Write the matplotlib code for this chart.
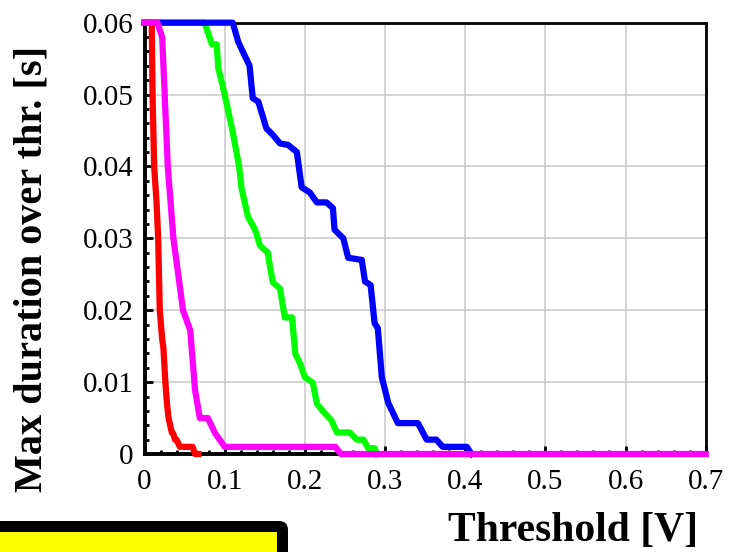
import numpy as np
import matplotlib
matplotlib.use("Agg")
import matplotlib.pyplot as plt
from matplotlib.patches import FancyBboxPatch, Rectangle
from matplotlib.ticker import MultipleLocator

plt.rcParams['font.family'] = ['Liberation Serif', 'DejaVu Serif']

# curves (threshold [V], max duration [s])
red_x = [0, 0.009, 0.010, 0.012, 0.015, 0.017, 0.019, 0.022, 0.0235, 0.026, 0.028,
         0.030, 0.032, 0.034, 0.036, 0.038, 0.040, 0.044, 0.050, 0.056, 0.060, 0.063, 0.067]
red_y = [0.06, 0.06, 0.05, 0.04, 0.035, 0.03, 0.02, 0.016, 0.0148, 0.01, 0.007,
         0.005, 0.004, 0.003, 0.0028, 0.002, 0.002, 0.001, 0.001, 0.001, 0.001, 0.0, 0.0]

magenta_x = [0, 0.016, 0.022, 0.029, 0.036, 0.048, 0.057, 0.063, 0.069, 0.079, 0.088,
             0.100, 0.238, 0.245, 0.7]
magenta_y = [0.06, 0.06, 0.058, 0.04, 0.03, 0.02, 0.0172, 0.0089, 0.005, 0.005, 0.0029,
             0.001, 0.001, 0.0, 0.0]

green_x = [0, 0.075, 0.084, 0.090, 0.092, 0.100, 0.110, 0.118, 0.121, 0.122, 0.129, 0.138,
           0.144, 0.154, 0.154, 0.160, 0.169, 0.175, 0.184, 0.188, 0.194, 0.200, 0.210,
           0.215, 0.223, 0.233, 0.240, 0.256, 0.265, 0.273, 0.279, 0.287, 0.290]
green_y = [0.06, 0.06, 0.057, 0.057, 0.0537, 0.05, 0.0448, 0.040, 0.037, 0.0365, 0.033, 0.0312,
           0.029, 0.028, 0.0277, 0.0239, 0.023, 0.019, 0.019, 0.014, 0.0126, 0.0107, 0.0099,
           0.007, 0.0059, 0.0047, 0.003, 0.003, 0.002, 0.002, 0.0008, 0.0008, 0.0]

blue_x = [0, 0.110, 0.117, 0.131, 0.135, 0.142, 0.152, 0.160, 0.169, 0.179, 0.190, 0.196,
          0.206, 0.215, 0.227, 0.235, 0.237, 0.248, 0.254, 0.271, 0.275, 0.282, 0.287,
          0.291, 0.296, 0.304, 0.316, 0.341, 0.352, 0.364, 0.372, 0.402, 0.408]
blue_y = [0.06, 0.06, 0.0573, 0.054, 0.0495, 0.049, 0.0453, 0.0444, 0.0432, 0.043, 0.042,
          0.0371, 0.0364, 0.035, 0.035, 0.0342, 0.0312, 0.030, 0.0273, 0.027, 0.024, 0.0235,
          0.0182, 0.0175, 0.0107, 0.0071, 0.0043, 0.0043, 0.002, 0.002, 0.001, 0.001, 0.0]

x_ticks = [0, 0.1, 0.2, 0.3, 0.4, 0.5, 0.6, 0.7]
x_labels = ['0', '0.1', '0.2', '0.3', '0.4', '0.5', '0.6', '0.7']
y_ticks = [0, 0.01, 0.02, 0.03, 0.04, 0.05, 0.06]
y_labels = ['0', '0.01', '0.02', '0.03', '0.04', '0.05', '0.06']

fig = plt.figure(figsize=(7.30, 5.52), dpi=100)
ax = fig.add_axes([0.198, 0.1775, 0.7687, 0.7814])

lw = 4.5
ax.plot(red_x, red_y, color='#ff0000', lw=lw, clip_on=False, zorder=3)
ax.plot(green_x, green_y, color='#00ff00', lw=lw, clip_on=False, zorder=4)
ax.plot(blue_x, blue_y, color='#0000ff', lw=lw, clip_on=False, zorder=5)
ax.plot(magenta_x, magenta_y, color='#ff00ff', lw=lw, clip_on=False, zorder=6)

ax.set_xlim(0, 0.7)
ax.set_ylim(0, 0.06)
ax.set_xticks(x_ticks)
ax.set_xticklabels(x_labels)
ax.set_yticks(y_ticks)
ax.set_yticklabels(y_labels)
ax.xaxis.set_minor_locator(MultipleLocator(0.02))
ax.yaxis.set_minor_locator(MultipleLocator(0.002))
ax.tick_params(axis='both', which='both', direction='in', labelsize=21, color='black')
ax.tick_params(axis='both', which='major', length=6, width=2)
ax.tick_params(axis='both', which='minor', length=3, width=2)
ax.tick_params(axis='x', pad=11)
ax.tick_params(axis='y', pad=8)

ax.grid(True, which='major', color='#cccccc', lw=1.2, zorder=0)
for s in ['left', 'bottom']:
    ax.spines[s].set_linewidth(2.8)
for s in ['top', 'right']:
    ax.spines[s].set_linewidth(2.0)

ax.set_ylabel('Max duration over thr. [s]', fontsize=29, fontweight='bold')
ax.yaxis.set_label_coords(-0.168, 0.428)
fig.text(0.956, 0.004, 'Threshold [V]', fontsize=30, fontweight='bold', ha='right', va='bottom')

# cut-off yellow box in the bottom left corner
outer = FancyBboxPatch((-30, -30), 318, 61, boxstyle='round,pad=0,rounding_size=9',
                       transform=None, facecolor='black', edgecolor='none')
fig.patches.append(outer)
inner = Rectangle((-30, -30), 307, 50, transform=None, facecolor='#ffff00', edgecolor='none')
fig.patches.append(inner)

fig.savefig('out.png', dpi=100)
